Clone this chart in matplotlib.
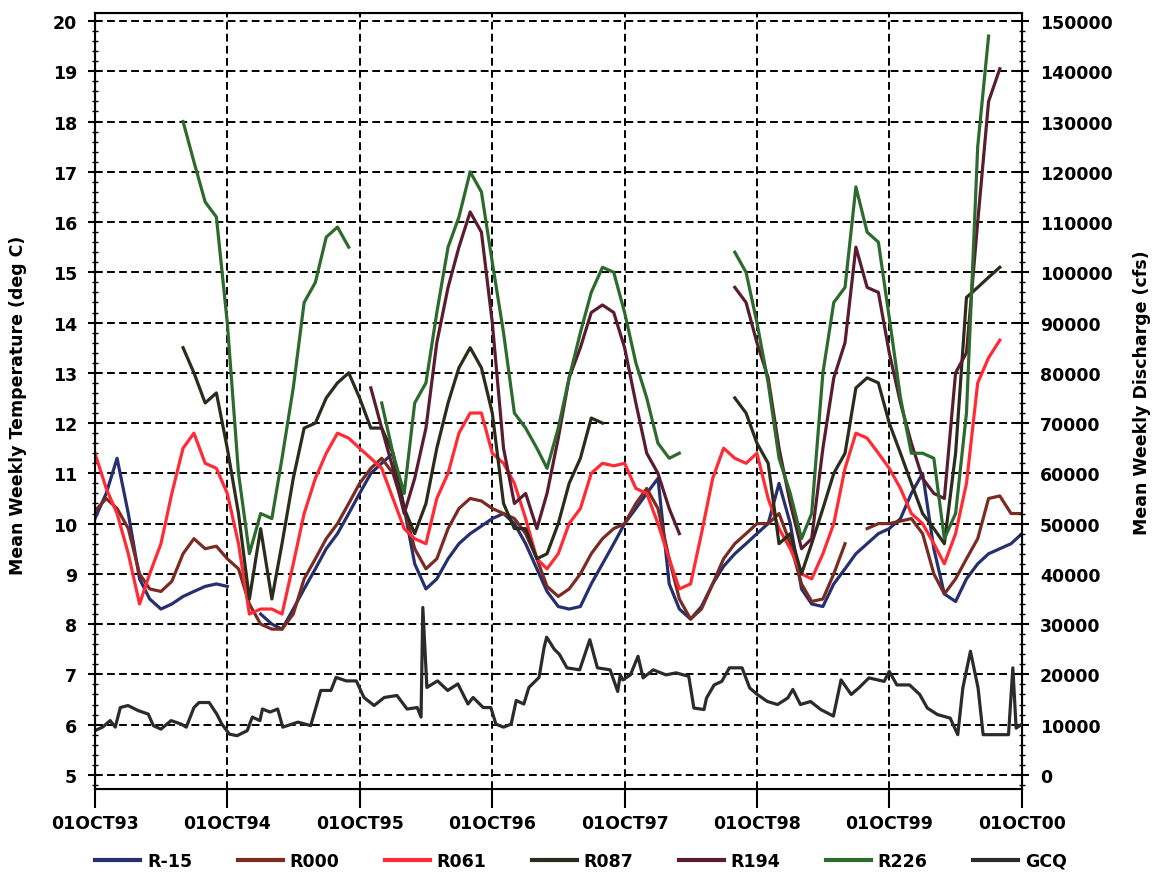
import numpy as np
import pandas as pd
import matplotlib
matplotlib.use("Agg")
import matplotlib.pyplot as plt
from matplotlib.ticker import MultipleLocator, FuncFormatter
from matplotlib.lines import Line2D

# monthly mean weekly temperatures (deg C), 01OCT93 .. 01OCT00
months = pd.date_range("1993-10-01", periods=85, freq="MS")
nan = np.nan

r_15 = [10.1, 10.6, 11.3, 10.2, 8.9, 8.5, 8.3, 8.4, 8.55, 8.65, 8.75, 8.8, 8.75,
        nan, nan, 8.2, 8.0, 7.9, 8.3, 8.7, 9.1, 9.5, 9.8, 10.2, 10.6,
        11.0, 11.2, 11.4, 10.3, 9.2, 8.7, 8.9, 9.3, 9.6, 9.8, 9.95, 10.1,
        10.2, 10.0, 9.6, 9.1, 8.65, 8.35, 8.3, 8.35, 8.8, 9.2, 9.6, 10.0,
        10.3, 10.6, 10.9, 8.8, 8.3, 8.1, 8.35, 8.8, 9.15, 9.4, 9.6, 9.8,
        10.0, 10.8, 10.0, 8.7, 8.4, 8.35, 8.8, 9.1, 9.4, 9.6, 9.8, 9.9,
        10.1, 10.6, 11.0, 9.5, 8.6, 8.45, 8.9, 9.2, 9.4, 9.5, 9.6, 9.8]

r000 = [10.25, 10.5, 10.3, 9.9, 9.0, 8.7, 8.65, 8.85, 9.4, 9.7, 9.5, 9.55, 9.3,
        9.1, 8.4, 8.0, 7.9, 7.9, 8.2, 8.9, 9.3, 9.7, 10.0, 10.4, 10.8,
        11.1, 11.3, 11.0, 10.3, 9.5, 9.1, 9.3, 9.9, 10.3, 10.5, 10.45, 10.3,
        10.2, 10.1, 9.8, 9.3, 8.75, 8.55, 8.7, 9.0, 9.4, 9.7, 9.9, 10.0,
        10.4, 10.7, 10.3, 9.3, 8.5, 8.1, 8.3, 8.8, 9.3, 9.6, 9.8, 10.0,
        10.0, 10.2, 9.6, 8.8, 8.45, 8.5, 9.0, 9.6, nan, 9.9, 10.0, 10.0,
        10.05, 10.1, 9.8, 9.0, 8.6, 8.9, 9.3, 9.7, 10.5, 10.55, 10.2, 10.2]

r061 = [11.4, 10.7, 10.2, 9.4, 8.4, 9.0, 9.6, 10.6, 11.5, 11.8, 11.2, 11.1, 10.6,
        9.6, 8.2, 8.3, 8.3, 8.2, 9.2, 10.2, 10.9, 11.4, 11.8, 11.7, 11.5,
        11.3, 11.1, 10.5, 9.9, 9.7, 9.6, 10.5, 11.0, 11.8, 12.2, 12.2, 11.4,
        11.2, 10.8, 10.1, 9.3, 9.1, 9.4, 10.0, 10.3, 11.0, 11.2, 11.15, 11.2,
        10.7, 10.6, 10.0, 9.3, 8.7, 8.8, 9.8, 10.9, 11.5, 11.3, 11.2, 11.4,
        10.5, 9.9, 9.5, 9.0, 8.9, 9.4, 10.0, 11.1, 11.8, 11.7, 11.4, 11.1,
        10.7, 10.2, 10.0, 9.6, 9.2, 9.8, 10.8, 12.8, 13.3, 13.65, nan, nan]

r087 = [nan, nan, nan, nan, nan, nan, nan, nan, 13.5, 13.0, 12.4, 12.6, 11.5,
        10.2, 8.5, 9.9, 8.5, 9.6, 10.9, 11.9, 12.0, 12.5, 12.8, 13.0, 12.5,
        11.9, 11.9, 11.4, 10.3, 9.8, 10.4, 11.5, 12.4, 13.1, 13.5, 13.1, 12.2,
        10.4, 9.9, 9.9, 9.3, 9.4, 10.0, 10.8, 11.3, 12.1, 12.0, nan, nan,
        nan, nan, nan, nan, nan, nan, nan, nan, nan, 12.5, 12.2, 11.6,
        11.2, 9.6, 9.8, 9.0, 9.6, 10.3, 11.0, 11.4, 12.7, 12.9, 12.8, 12.0,
        11.4, 10.8, 10.2, 9.9, 9.6, 11.4, 14.5, 14.7, 14.9, 15.1, nan, nan]

r194 = [nan] * 25 + [
        12.7, 11.9, 11.1, 10.2, 10.9, 11.9, 13.6, 14.7, 15.5, 16.2, 15.8, 14.0,
        11.5, 10.4, 10.6, 9.9, 10.6, 11.7, 12.9, 13.5, 14.2, 14.35, 14.2, 13.5,
        12.4, 11.4, 11.0, 10.3, 9.8, nan, nan, nan, nan, 14.7, 14.4, 13.6,
        12.9, 11.5, 10.4, 9.5, 9.7, 11.5, 12.9, 13.6, 15.5, 14.7, 14.6, 13.4,
        12.4, 11.6, 10.9, 10.6, 10.5, 13.0, 13.4, 16.0, 18.4, 19.05, nan, nan]

r226 = [nan, nan, nan, nan, nan, nan, nan, nan, 18.0, 17.2, 16.4, 16.1, 14.0,
        11.0, 9.4, 10.2, 10.1, 11.3, 12.7, 14.4, 14.8, 15.7, 15.9, 15.5, nan,
        nan, 12.4, 11.4, 10.6, 12.4, 12.8, 14.2, 15.5, 16.1, 17.0, 16.6, 15.2,
        13.8, 12.2, 11.9, 11.5, 11.1, 11.9, 12.9, 13.8, 14.6, 15.1, 15.0, 14.2,
        13.2, 12.5, 11.6, 11.3, 11.4, nan, nan, nan, nan, 15.4, 15.0, 14.0,
        12.8, 11.3, 10.6, 9.7, 10.2, 13.0, 14.4, 14.7, 16.7, 15.8, 15.6, 14.1,
        12.5, 11.4, 11.4, 11.3, 9.7, 10.2, 12.2, 17.5, 19.7, nan, nan, nan]

# mean weekly discharge (cfs) at GCQ, weeks since 01OCT93
gcq_week = [0, 3, 6, 8, 10, 13, 17, 21, 23, 26, 30, 34, 36, 39, 41, 45, 48, 50,
            53, 56, 60, 62, 65, 66, 69, 72, 74, 80, 85, 89, 93, 95, 99, 103, 106,
            110, 114, 119, 123, 127, 128.5, 129.2, 130.8, 135, 139, 143, 147, 149,
            153, 156, 158, 161, 164, 166, 169, 171, 175, 177, 178, 181, 183, 186,
            191, 195, 198, 203, 206, 207, 208, 211, 214, 216, 220, 225, 229, 234,
            236, 240, 241, 244, 247, 250, 255, 258, 261, 265, 269, 273, 275, 278,
            282, 286, 291, 294, 298, 301, 305, 311, 313, 316, 321, 325, 328, 332,
            337, 340, 342, 345, 348, 350, 355, 360, 361.7, 363, 365]
gcq_cfs = [8800, 9500, 10800, 9500, 13400, 13800, 12800, 12100, 9800, 9100, 10800,
           10100, 9500, 13400, 14400, 14400, 12100, 10100, 8100, 7800, 8800, 11500,
           10800, 13100, 12500, 13100, 9500, 10500, 9800, 16800, 16800, 19400, 18700,
           18700, 15400, 13800, 15400, 15800, 13100, 13400, 11500, 33300, 17400,
           18700, 16800, 18100, 14100, 15400, 13400, 13400, 10100, 9500, 10100,
           14800, 14100, 17400, 19400, 25400, 27400, 25000, 24000, 21300, 20900,
           26900, 21300, 20900, 16600, 19900, 18900, 19900, 23600, 19300, 20900,
           19900, 20300, 19600, 13300, 13000, 15300, 17900, 18600, 21300, 21300,
           17300, 16000, 14600, 14000, 15300, 17000, 14000, 14600, 13000, 11700,
           18900, 16000, 17300, 19300, 18600, 20600, 17900, 17900, 16000, 13300,
           12000, 11300, 8000, 17300, 24600, 17300, 8000, 8000, 8000, 21300, 9300,
           10000]
gcq_dates = pd.Timestamp("1993-10-01") + pd.to_timedelta(np.array(gcq_week) * 7, unit="D")

year_ticks = pd.date_range("1993-10-01", periods=8, freq="12MS")
year_labels = ["01OCT93", "01OCT94", "01OCT95", "01OCT96",
               "01OCT97", "01OCT98", "01OCT99", "01OCT00"]

series = [("R-15", r_15, "#27306e"),
          ("R000", r000, "#7a2b22"),
          ("R061", r061, "#ff2b35"),
          ("R087", r087, "#2c2c1c"),
          ("R194", r194, "#5a1d30"),
          ("R226", r226, "#2d6a2d")]

font = {"family": "DejaVu Sans", "weight": "bold", "size": 12.5}

fig = plt.figure(figsize=(11.58, 8.79), dpi=100)
ax = fig.add_axes([0.082, 0.1013, 0.8005, 0.8828])

for name, vals, col in series:
    ax.plot(months, vals, color=col, lw=2.3, label=name)

ax.set_xlim(year_ticks[0], year_ticks[-1])
ax.set_ylim(4.72, 20.16)
ax.set_axisbelow(True)
ax.grid(True, which="major", color="black", linestyle=(0, (4, 2.2)), linewidth=1.4)

ax.set_xticks(year_ticks)
ax.set_xticklabels(year_labels, fontdict=font)
ax.tick_params(axis="x", direction="out", length=14, width=1.5, pad=4)
ax.yaxis.set_major_locator(MultipleLocator(1))
ax.yaxis.set_minor_locator(MultipleLocator(0.2))
ax.yaxis.set_major_formatter(FuncFormatter(lambda v, p: "%d" % v))
ax.tick_params(axis="y", which="major", direction="inout", length=10, width=1.5, pad=8)
ax.tick_params(axis="y", which="minor", direction="inout", length=5, width=1.0)
for lbl in ax.get_yticklabels():
    lbl.set_fontproperties(font)
for sp in ax.spines.values():
    sp.set_linewidth(1.5)

# discharge on the right axis
ax2 = ax.twinx()
ax2.plot(gcq_dates, gcq_cfs, color="#2b2b2b", lw=2.3, label="GCQ")
ax2.set_ylim((4.72 - 5) * 10000, (20.16 - 5) * 10000)
ax2.yaxis.set_major_locator(MultipleLocator(10000))
ax2.yaxis.set_minor_locator(MultipleLocator(2000))
ax2.yaxis.set_major_formatter(FuncFormatter(lambda v, p: "%d" % v))
ax2.tick_params(axis="y", which="major", direction="inout", length=10, width=1.5, pad=8)
ax2.tick_params(axis="y", which="minor", direction="inout", length=5, width=1.0)
for lbl in ax2.get_yticklabels():
    lbl.set_fontproperties(font)

fig.text(18 / 1158, 1 - 405 / 879, "Mean Weekly Temperature (deg C)", rotation=90,
         ha="center", va="center", fontsize=12.5, fontweight="bold")
fig.text(1142 / 1158, 1 - 393 / 879, "Mean Weekly Discharge (cfs)", rotation=90,
         ha="center", va="center", fontsize=12.5, fontweight="bold")

handles = [Line2D([], [], color=col, lw=3) for _, _, col in series]
handles.append(Line2D([], [], color="#2b2b2b", lw=3))
labels = [s[0] for s in series] + ["GCQ"]
fig.legend(handles, labels, loc="center", bbox_to_anchor=(581 / 1158, 1 - 862 / 879),
           ncol=7, frameon=False, handlelength=2.6, handletextpad=0.4,
           columnspacing=2.6, prop=font)

fig.savefig("out.png", dpi=100)
